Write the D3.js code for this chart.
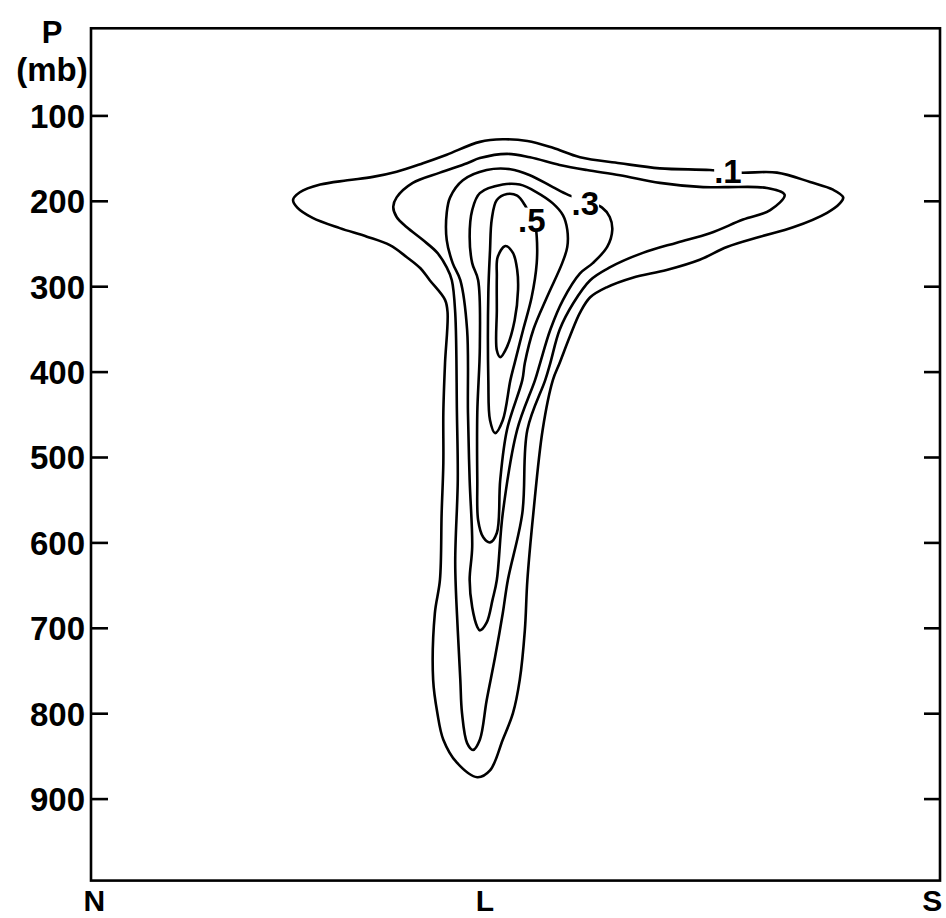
<!DOCTYPE html>
<html>
<head>
<meta charset="utf-8">
<script src="https://cdn.jsdelivr.net/npm/d3@7"></script>
<style>
  body { margin: 0; background: #fff; }
  svg { display: block; }
  text { font-family: "Liberation Sans", Arial, sans-serif; font-weight: bold; fill: #000; }
</style>
</head>
<body>
<svg id="chart" width="946" height="918"></svg>
<script>
// pressure axis (mb) and cross-section positions (0 = N, 100 = S)
const pressureTicks = [100, 200, 300, 400, 500, 600, 700, 800, 900];
const sectionLabels = ["N", "L", "S"];
const sectionPositions = [0.4, 46.4, 99.1];

// contour lines, [position, pressure in mb]
const contour1 = [[23.8,199],[24.6,190],[27.0,181],[30.2,176],[33.2,172],[36.0,166],[39.1,156],[41.9,146],[45.8,131],[48.5,128],[51.4,130],[54.4,138],[57.6,149],[62.3,156],[67.0,162],[72.9,164],[76.4,167],[80.8,167],[84.7,178],[87.4,187],[88.6,196],[88.2,203],[86.7,214],[82.7,231],[78.8,242],[74.9,254],[71.7,269],[67.8,281],[63.8,290],[60.8,301],[58.8,313],[57.6,331],[56.4,359],[55.2,390],[54.4,410],[53.2,468],[52.1,566],[51.4,644],[51.1,703],[50.5,761],[49.7,800],[48.5,831],[47.0,867],[45.5,875],[43.1,858],[41.5,831],[40.8,800],[40.3,761],[40.5,683],[41.1,644],[41.3,566],[41.5,507],[41.5,448],[41.7,390],[42.0,331],[41.7,316],[39.9,293],[38.8,279],[37.2,266],[35.2,252],[32.5,242],[29.3,232],[26.1,220],[24.3,208]];
const contour2 = [[35.6,207],[36.0,196],[37.9,179],[41.1,167],[44.3,156],[45.8,150],[49.0,145],[51.7,149],[55.2,158],[58.4,164],[62.3,170],[67.0,179],[72.1,184],[74.9,184],[79.6,185],[81.7,193],[80.0,211],[76.8,222],[72.9,238],[69.0,249],[65.0,261],[61.1,278],[58.8,293],[56.8,320],[55.2,351],[54.1,390],[53.5,410],[51.4,468],[50.8,566],[49.1,644],[48.5,683],[47.6,734],[46.6,785],[45.8,831],[45.0,843],[44.3,835],[43.7,800],[43.5,761],[43.2,703],[42.9,624],[43.2,527],[43.1,448],[42.9,331],[42.5,293],[41.9,278],[40.8,261],[39.1,246],[37.2,231],[36.0,219]];
const contour3 = [[45.8,703],[45.5,699],[44.9,676],[44.6,644],[44.9,605],[44.6,527],[44.4,448],[44.3,351],[43.5,293],[42.6,273],[41.9,246],[41.9,214],[42.3,196],[43.8,176],[46.6,164],[49.4,163],[51.7,170],[54.4,184],[56.2,193],[58.2,200],[60.2,208],[61.1,219],[61.4,234],[60.8,254],[59.1,273],[57.6,285],[55.6,316],[54.1,351],[52.9,390],[52.3,410],[50.2,468],[48.5,566],[47.8,644],[47.3,667],[46.6,694]];
const contour4 = [[47.0,600],[46.2,594],[45.6,574],[45.5,527],[45.5,448],[45.8,371],[45.6,293],[44.9,273],[44.6,242],[44.9,211],[45.8,191],[48.5,181],[50.5,181],[52.5,190],[54.4,203],[55.6,217],[56.1,234],[56.1,254],[55.5,273],[53.7,313],[52.1,351],[51.1,390],[50.8,410],[49.0,468],[48.2,527],[47.8,589]];
const contour5 = [[47.6,472],[47.0,457],[46.8,410],[46.8,308],[47.0,258],[47.2,222],[47.8,199],[49.0,192],[50.2,194],[51.1,205],[51.7,217],[52.3,228],[52.5,242],[52.5,273],[51.9,313],[50.9,351],[49.9,390],[49.4,410],[48.5,457]];
const contour6 = [[48.8,253],[49.7,261],[50.2,281],[50.3,304],[49.9,340],[49.0,371],[48.2,383],[47.8,375],[47.8,328],[47.8,289],[47.9,266]];
const contours = [contour1, contour2, contour3, contour4, contour5, contour6];

// contour labels
const labelTexts = [".1", ".3", ".5"];
const labelPositions = [[73.4, 179], [56.6, 217], [50.3, 237]];

const svg = d3.select("#chart");

const x = d3.scaleLinear().domain([0, 100]).range([91, 940]);
const y = d3.scaleLinear().domain([0, 1000]).range([30, 884]);
const frameTop = -2, frameBottom = 996;

// contours
const line = d3.line()
  .x(d => x(d[0]))
  .y(d => y(d[1]))
  .curve(d3.curveCatmullRomClosed.alpha(0.5));

svg.append("g")
  .selectAll("path")
  .data(contours)
  .enter()
  .append("path")
  .attr("d", line)
  .attr("fill", "none")
  .attr("stroke", "#000")
  .attr("stroke-width", 2.6)
  .attr("stroke-linejoin", "round");

// labels, with white box to break the line
const labels = svg.append("g");
labelTexts.forEach((t, i) => {
  const g = labels.append("g");
  const txt = g.append("text")
    .attr("x", x(labelPositions[i][0]))
    .attr("y", y(labelPositions[i][1]))
    .attr("font-size", 33)
    .text(t);
  const bb = txt.node().getBBox();
  g.insert("rect", "text")
    .attr("x", bb.x)
    .attr("y", bb.y + bb.height * 0.14)
    .attr("width", bb.width)
    .attr("height", bb.height * 0.62)
    .attr("fill", "#fff");
});

// frame
svg.append("rect")
  .attr("x", x(0))
  .attr("y", y(frameTop))
  .attr("width", x(100) - x(0))
  .attr("height", y(frameBottom) - y(frameTop))
  .attr("fill", "none")
  .attr("stroke", "#000")
  .attr("stroke-width", 2.6);

// left axis
const leftAxis = svg.append("g")
  .attr("transform", "translate(" + x(0) + ",0)")
  .call(d3.axisLeft(y).tickValues(pressureTicks).tickSize(-17).tickPadding(6));
leftAxis.select(".domain").remove();
leftAxis.selectAll("line").attr("stroke-width", 2.6);
leftAxis.selectAll("text")
  .attr("font-size", 33)
  .attr("font-family", null)
  .attr("dy", "0.36em");

// right axis, ticks only
const rightAxis = svg.append("g")
  .attr("transform", "translate(" + x(100) + ",0)")
  .call(d3.axisRight(y).tickValues(pressureTicks).tickSize(-16).tickFormat(""));
rightAxis.select(".domain").remove();
rightAxis.selectAll("line").attr("stroke-width", 2.6);

// section labels along the bottom
svg.append("g")
  .selectAll("text")
  .data(sectionLabels)
  .enter()
  .append("text")
  .attr("x", (d, i) => x(sectionPositions[i]))
  .attr("y", y(frameBottom) + 30)
  .attr("text-anchor", "middle")
  .attr("font-size", 30)
  .text(d => d);

// axis title
svg.append("text")
  .attr("x", 52)
  .attr("y", 43)
  .attr("text-anchor", "middle")
  .attr("font-size", 31)
  .text("P");
svg.append("text")
  .attr("x", 52)
  .attr("y", 81)
  .attr("text-anchor", "middle")
  .attr("font-size", 33)
  .text("(mb)");
</script>
</body>
</html>
